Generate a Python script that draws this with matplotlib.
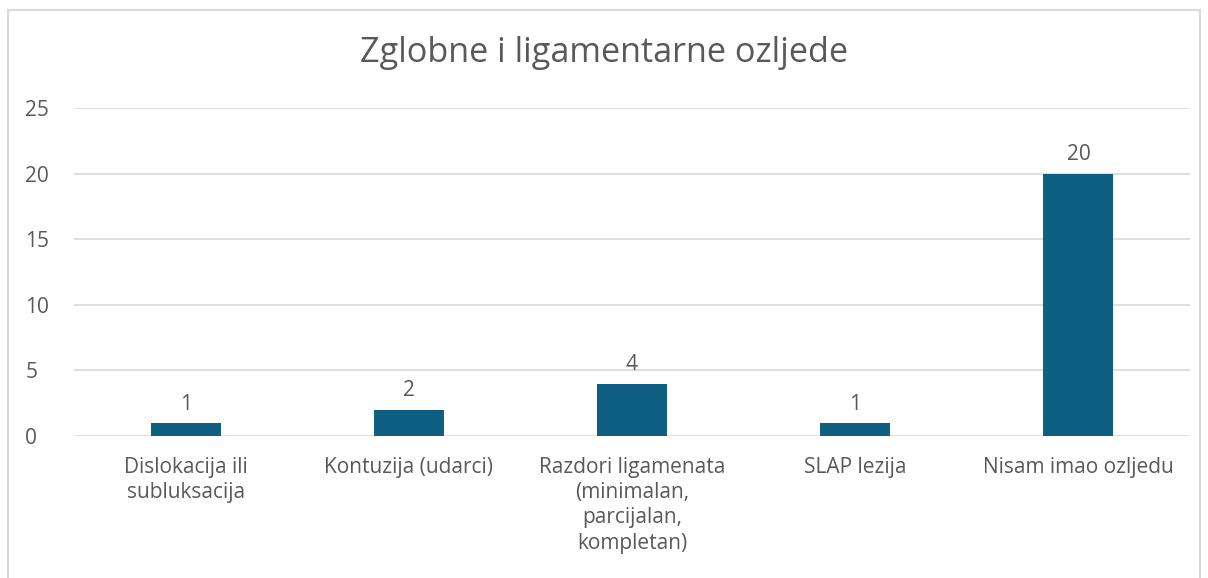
import matplotlib.pyplot as plt
from matplotlib.patches import Rectangle

kategorije = ["Dislokacija ili\nsubluksacija", "Kontuzija (udarci)",
              "Razdori ligamenata\n(minimalan,\nparcijalan,\nkompletan)",
              "SLAP lezija", "Nisam imao ozljedu"]
vrijednosti = [1, 2, 4, 1, 20]
y_ticks = [0, 5, 10, 15, 20, 25]

boja_stupca = "#0E5F82"
boja_teksta = "#595959"

plt.rcParams['font.family'] = ['Open Sans', 'DejaVu Sans']

fig = plt.figure(figsize=(12.08, 5.78), dpi=100)
ax = fig.add_axes([74 / 1208, 1 - 436 / 578, 1116 / 1208, 328 / 578])

x = range(len(kategorije))
stupci = ax.bar(x, vrijednosti, width=0.314, color=boja_stupca, zorder=3)

# oznake vrijednosti iznad stupaca
for s, v in zip(stupci, vrijednosti):
    ax.annotate(str(v), (s.get_x() + s.get_width() / 2, v), xytext=(0, 6),
                textcoords="offset points", ha="center", va="bottom",
                fontsize=15, color=boja_teksta)

ax.set_xlim(-0.5, len(kategorije) - 0.5)
ax.set_ylim(0, 25)
ax.set_yticks(y_ticks)
ax.set_xticks(list(x))
ax.set_xticklabels(kategorije, fontsize=15, color=boja_teksta, linespacing=1.27)
ax.tick_params(axis="y", labelsize=15, labelcolor=boja_teksta, length=0, pad=35)
ax.tick_params(axis="x", length=0, pad=15)
for lbl in ax.get_yticklabels():
    lbl.set_horizontalalignment("left")

ax.grid(axis="y", color="#D9D9D9", linewidth=1.2, zorder=0)
for sp in ax.spines.values():
    sp.set_visible(False)

fig.text(0.5, 1 - 53 / 578, "Zglobne i ligamentarne ozljede", ha="center",
         va="center", fontsize=24.7, color=boja_teksta)

# okvir grafikona
fig.patches.append(Rectangle((8 / 1208, -0.1), 1192 / 1208, 1.1 - 10 / 578,
                             transform=fig.transFigure, fill=False,
                             edgecolor="#D9D9D9", linewidth=1.5))

fig.savefig("out.png", dpi=100, facecolor="white")
